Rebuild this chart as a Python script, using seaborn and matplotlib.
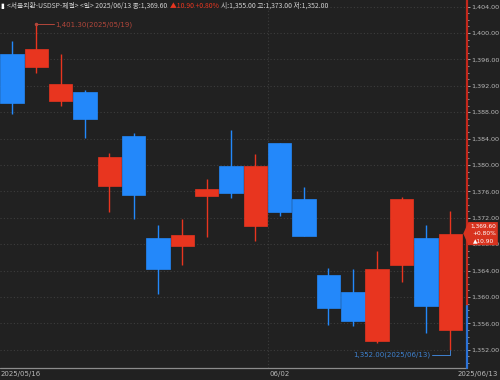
"""
USD/KRW daily candles (서울외환 USDSP), 2025/05/16 - 2025/06/13.
"""

import matplotlib.pyplot as plt
import seaborn as sns
from matplotlib.patches import Polygon
from matplotlib.transforms import blended_transform_factory

# ---- data ---------------------------------------------------------------
dates = ["05/16", "05/19", "05/20", "05/21", "05/22", "05/23", "05/26",
         "05/27", "05/28", "05/29", "05/30", "06/02", "06/04", "06/05",
         "06/09", "06/10", "06/11", "06/12", "06/13"]
opens = [1396.8, 1394.9, 1389.7, 1391.0, 1376.8, 1384.4, 1368.9, 1367.8, 1375.3,
         1379.9, 1370.8, 1383.3, 1374.9, 1363.3, 1360.8, 1353.4, 1364.9, 1368.9, 1355.0]
highs = [1398.8, 1401.3, 1396.8, 1391.4, 1381.8, 1384.8, 1370.9, 1371.8, 1377.9,
         1385.3, 1381.6, 1383.3, 1376.7, 1364.4, 1364.2, 1366.9, 1375.2, 1370.9, 1373.0]
lows = [1387.8, 1394.0, 1388.9, 1384.1, 1372.9, 1371.8, 1360.5, 1364.9, 1369.1,
        1375.0, 1368.5, 1372.3, 1369.2, 1355.7, 1355.6, 1353.1, 1362.2, 1354.6, 1352.0]
closes = [1389.4, 1397.6, 1392.3, 1387.0, 1381.2, 1375.4, 1364.2, 1369.4, 1376.4,
          1375.7, 1379.9, 1372.9, 1369.3, 1358.3, 1356.3, 1364.2, 1374.9, 1358.7, 1369.6]
y_ticks = [1352, 1356, 1360, 1364, 1368, 1372, 1376, 1380, 1384, 1388,
           1392, 1396, 1400, 1404]
prev_close = 1358.7
last_change = 10.90
last_pct = 0.80

BG = "#212121"
UP = "#e8351f"
DOWN = "#2388fa"
TXT = "#b9b9b9"

sns.set_style("dark", rc={"axes.facecolor": BG, "figure.facecolor": BG})
plt.rcParams["font.family"] = ["DejaVu Sans", "Noto Sans CJK KR"]

W, H = 500, 380
fig = plt.figure(figsize=(W / 100, H / 100), dpi=100)
ax = fig.add_axes([0, 12 / H, 467 / W, 368 / H])
ax.set_facecolor(BG)

n = len(dates)
xs = list(range(n))
colors = [UP if c >= o else DOWN for o, c in zip(opens, closes)]

# grid
for v in y_ticks:
    ax.axhline(v, color="#3d3d3d", lw=0.8, ls=(0, (1, 2)), zorder=0)
ax.axvline(10.5, color="#3d3d3d", lw=0.8, ls=(0, (1, 2)), zorder=0)

# wicks + bodies
ax.vlines(xs, lows, highs, colors=colors, lw=1.0, zorder=2)
bottoms = [min(o, c) for o, c in zip(opens, closes)]
heights = [max(abs(c - o), 0.15) for o, c in zip(opens, closes)]
ax.bar(xs, heights, bottom=bottoms, width=0.96, color=colors,
       edgecolor=colors, linewidth=0.5, zorder=3)

ax.set_xlim(-0.493, 18.69)
ax.set_ylim(1349.24, 1405.0)

# axes / ticks
for s in ax.spines.values():
    s.set_visible(False)
ax.yaxis.tick_right()
ax.set_yticks(y_ticks)
ax.set_yticklabels([f"{v:,.2f}" for v in y_ticks])
ax.set_yticks([v for v in range(1350, 1405) if v % 4], minor=True)
ax.tick_params(axis="y", which="major", colors=TXT, labelsize=4.6, length=2,
               width=0.6, pad=1)
ax.tick_params(axis="y", which="minor", colors=TXT, length=1.2, width=0.5)
ax.set_xticks([10.5])
ax.set_xticklabels([])
ax.set_xticks([5.5, 13.5], minor=True)
ax.tick_params(axis="x", which="major", colors="#9a9a9a", length=5, width=0.6)
ax.tick_params(axis="x", which="minor", colors="#9a9a9a", length=1.5, width=0.8)

# bottom axis line
ax.axhline(1349.24, color="#8c8c8c", lw=0.9, clip_on=False, zorder=4)

# right price axis line: red above prev close, blue below
tr = blended_transform_factory(ax.transAxes, ax.transData)
ax.plot([1.0, 1.0], [prev_close, 1405.0], color="#c4281c", lw=1.6,
        transform=tr, clip_on=False, zorder=5)
ax.plot([1.0, 1.0], [1349.24, prev_close], color="#2a72d8", lw=1.6,
        transform=tr, clip_on=False, zorder=5)

# x labels
xl = dict(color=TXT, fontsize=5.0, va="center", transform=fig.transFigure)
fig.text(1 / W, 1 - 374 / H, "2025/05/16", ha="left", **xl)
fig.text(269 / W, 1 - 374 / H, dates[11], ha="left", **xl)
fig.text(498 / W, 1 - 374 / H, "2025/06/13", ha="right", **xl)

# high / low markers
hi_i = highs.index(max(highs))
ax.plot([hi_i, hi_i + 0.72], [highs[hi_i]] * 2, color="#b3473b", lw=0.7, zorder=4)
ax.plot(hi_i, highs[hi_i], "o", ms=1.5, color="#b3473b", zorder=4)
ax.text(hi_i + 0.76, highs[hi_i], f"{highs[hi_i]:,.2f}(2025/{dates[hi_i]})",
        color="#b3473b", fontsize=5, va="center", ha="left")

lo_i = lows.index(min(lows))
ly = lows[lo_i] - 0.75
ax.plot([lo_i - 0.75, lo_i, lo_i], [ly, ly, lows[lo_i] - 0.1],
        color="#3f82d0", lw=0.7, zorder=4)
ax.text(lo_i - 0.8, ly, f"{lows[lo_i]:,.2f}(2025/{dates[lo_i]})",
        color="#3f82d0", fontsize=5, va="center", ha="right")

# current price tag (covers the 1,368 label like the original)
c = closes[-1]
tag = Polygon([(0.992, c), (1.003, c + 1.75), (1.066, c + 1.75),
               (1.066, c - 1.75), (1.003, c - 1.75)], closed=True,
              facecolor="#d8331f", edgecolor="none", transform=tr,
              clip_on=False, zorder=6)
ax.add_patch(tag)
for dy, s in zip([1.1, 0.0, -1.1],
                 [f"{c:,.2f}", f"+{last_pct:.2f}%", f"▲{last_change:.2f}"]):
    ax.text(1.036, c + dy, s, color="white", fontsize=4.2, ha="center",
            va="center", transform=tr, clip_on=False, zorder=7)

# header, pieces laid out one after another
hy = 1 - 6 / H
hf = dict(fontsize=4.9, va="center", family=["Noto Sans CJK KR", "DejaVu Sans"])
pieces = [
    ("▮", "white"),
    (f"<서울외환-USDSP-체결> <일> 2025/{dates[-1]} 종:{c:,.2f}", "#d0d0d0"),
    (f"▲{last_change:.2f} +{last_pct:.2f}%", "#e8351f"),
    (f"시:{opens[-1]:,.2f} 고:{highs[-1]:,.2f} 저:{lows[-1]:,.2f}", "#d0d0d0"),
]
renderer = fig.canvas.get_renderer()
x0 = 0.5
for s, col in pieces:
    t = fig.text(x0 / W, hy, s, color=col, **hf)
    x0 = t.get_window_extent(renderer).x1 + 2.5

fig.savefig("out.png", dpi=100, facecolor=BG)
